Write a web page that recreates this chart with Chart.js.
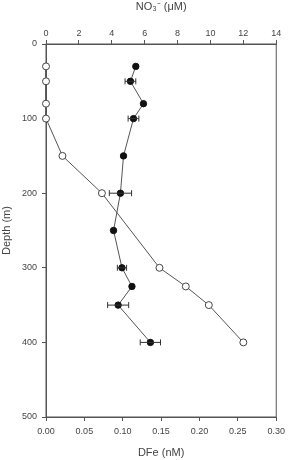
<!DOCTYPE html>
<html>
<head>
<meta charset="utf-8">
<script src="https://cdn.jsdelivr.net/npm/chart.js@4"></script>
<style>
  html, body { margin: 0; padding: 0; background: #fff; }
</style>
</head>
<body>
<canvas id="c" width="290" height="460"></canvas>
<script>
var depthFe = [30, 50, 80, 100, 150, 200, 250, 300, 325, 350, 400];
var dfe     = [0.117, 0.110, 0.127, 0.114, 0.101, 0.097, 0.088, 0.099, 0.112, 0.094, 0.136];
var dfeErr  = [0, 0.007, 0, 0.007, 0, 0.0145, 0, 0.006, 0, 0.0137, 0.0132];

var depthNO3 = [30, 50, 80, 100, 150, 200, 300, 325, 350, 400];
var no3      = [0, 0, 0, 0, 1.0, 3.4, 6.9, 8.5, 9.9, 12.0];

var depthTicks = [0, 100, 200, 300, 400, 500];

var axisCol = '#555';
var textCol = '#444';
var font = { family: 'Liberation Sans, Arial, sans-serif', size: 9 };
var titleFont = { family: 'Liberation Sans, Arial, sans-serif', size: 11 };

function pts(xs, ys){ return xs.map(function(x, i){ return { x: x, y: ys[i] }; }); }

// horizontal error bars on the DFe series
var errorBars = {
  id: 'errorBars',
  afterDatasetsDraw: function(chart){
    var ctx = chart.ctx, xs = chart.scales.x, ys = chart.scales.y;
    ctx.save();
    ctx.strokeStyle = '#333';
    ctx.lineWidth = 1;
    dfe.forEach(function(v, i){
      var e = dfeErr[i];
      if (!e) return;
      var y = ys.getPixelForValue(depthFe[i]);
      var x1 = xs.getPixelForValue(v - e), x2 = xs.getPixelForValue(v + e);
      ctx.beginPath();
      ctx.moveTo(x1, y); ctx.lineTo(x2, y);
      ctx.moveTo(x1, y - 3); ctx.lineTo(x1, y + 3);
      ctx.moveTo(x2, y - 3); ctx.lineTo(x2, y + 3);
      ctx.stroke();
    });
    ctx.restore();
  }
};

// frame round the plot area
var frame = {
  id: 'frame',
  beforeDatasetsDraw: function(chart){
    var a = chart.chartArea, ctx = chart.ctx;
    ctx.save();
    ctx.strokeStyle = axisCol;
    ctx.lineWidth = 1;
    ctx.strokeRect(a.left, a.top, a.right - a.left, a.bottom - a.top);
    ctx.restore();
  }
};

new Chart(document.getElementById('c'), {
  type: 'scatter',
  data: {
    datasets: [{
      label: 'NO3',
      data: pts(no3, depthNO3),
      xAxisID: 'x2',
      showLine: true,
      borderColor: '#555',
      borderWidth: 1,
      pointRadius: 3.5,
      pointBackgroundColor: '#fff',
      pointBorderColor: '#444',
      pointBorderWidth: 1,
      clip: false
    }, {
      label: 'DFe',
      data: pts(dfe, depthFe),
      xAxisID: 'x',
      showLine: true,
      borderColor: '#555',
      borderWidth: 1,
      pointRadius: 3.2,
      pointBackgroundColor: '#111',
      pointBorderColor: '#111',
      pointBorderWidth: 1,
      clip: false
    }]
  },
  options: {
    responsive: false,
    animation: false,
    layout: { padding: { left: 0, right: 10, top: 0, bottom: 0 } },
    plugins: { legend: { display: false }, tooltip: { enabled: false } },
    scales: {
      y: {
        type: 'linear', position: 'left', reverse: true, min: 0, max: 500,
        afterFit: function(s){ s.width = 46; },
        afterBuildTicks: function(s){ s.ticks = depthTicks.map(function(v){ return { value: v }; }); },
        grid: { drawOnChartArea: false, tickLength: 4, color: axisCol },
        border: { color: axisCol },
        ticks: { color: textCol, font: font, padding: 5 },
        title: { display: true, text: 'Depth (m)', color: textCol, font: titleFont, padding: 0 }
      },
      x: {
        type: 'linear', position: 'bottom', min: 0, max: 0.30,
        afterFit: function(s){ s.height = 43; },
        grid: { drawOnChartArea: false, tickLength: 4, color: axisCol },
        border: { color: axisCol },
        ticks: { stepSize: 0.05, color: textCol, font: font, padding: 5, maxRotation: 0,
                 callback: function(v){ return v.toFixed(2); } },
        title: { display: true, text: 'DFe (nM)', color: textCol, font: titleFont, padding: 0 }
      },
      x2: {
        type: 'linear', position: 'top', min: 0, max: 14,
        afterFit: function(s){ s.height = 44; },
        grid: { drawOnChartArea: false, tickLength: 4, color: axisCol },
        border: { color: axisCol },
        ticks: { stepSize: 2, color: textCol, font: font, padding: 1, maxRotation: 0 },
        title: { display: true, text: 'NO₃⁻ (μM)', color: textCol, font: titleFont, padding: 0 }
      }
    }
  },
  plugins: [frame, errorBars]
});
</script>
</body>
</html>
